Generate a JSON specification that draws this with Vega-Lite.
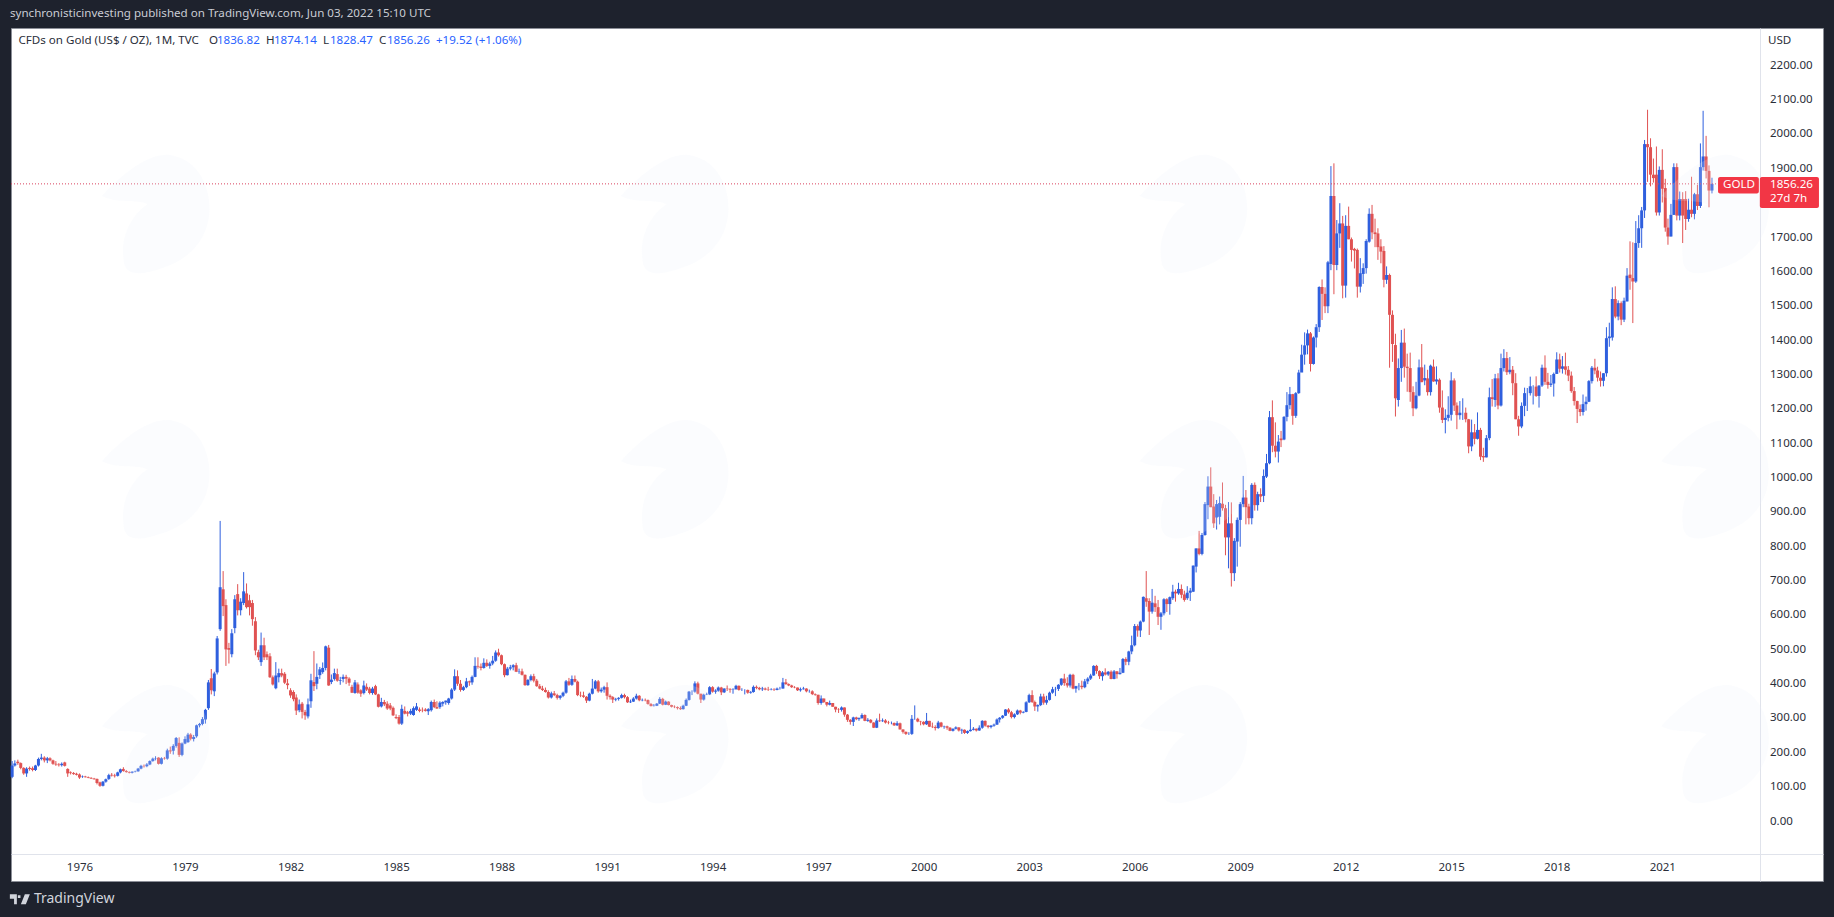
{
"$schema":"https://vega.github.io/schema/vega-lite/v6.json",
"width":1812,"height":853,
"autosize":"none",
"padding":{"left":11,"top":28,"right":11,"bottom":36},
"background":"#1e222d",
"config":{"view":{"fill":"#ffffff","stroke":"#8b8e97","strokeWidth":1},"font":"Noto Sans","axis":{"labelFont":"Noto Sans"}},
"datasets":{
"candles":[
{"t":"1974-02","o":130,"h":176,"l":126,"c":163},{"t":"1974-03","o":163,"h":178,"l":160,"c":169},{"t":"1974-04","o":174,"h":180,"l":165,"c":170},{"t":"1974-05","o":170,"h":172,"l":152,"c":156},{"t":"1974-06","o":156,"h":158,"l":136,"c":140},{"t":"1974-07","o":140,"h":158,"l":130,"c":154},{"t":"1974-08","o":156,"h":160,"l":148,"c":153},{"t":"1974-09","o":155,"h":160,"l":146,"c":150},{"t":"1974-10","o":150,"h":165,"l":147,"c":163},{"t":"1974-11","o":163,"h":186,"l":160,"c":182},{"t":"1974-12","o":182,"h":197,"l":178,"c":186},
{"t":"1975-01","o":186,"h":190,"l":172,"c":178},{"t":"1975-02","o":178,"h":188,"l":170,"c":184},{"t":"1975-03","o":184,"h":187,"l":175,"c":178},{"t":"1975-04","o":178,"h":180,"l":165,"c":168},{"t":"1975-05","o":168,"h":176,"l":162,"c":166},{"t":"1975-06","o":166,"h":170,"l":160,"c":164},{"t":"1975-07","o":164,"h":172,"l":160,"c":168},{"t":"1975-08","o":172,"h":174,"l":160,"c":162},{"t":"1975-09","o":153,"h":155,"l":130,"c":140},{"t":"1975-10","o":143,"h":146,"l":137,"c":141},{"t":"1975-11","o":141,"h":144,"l":136,"c":138},{"t":"1975-12","o":139,"h":142,"l":134,"c":136},
{"t":"1976-01","o":137,"h":140,"l":124,"c":128},{"t":"1976-02","o":130,"h":134,"l":127,"c":131},{"t":"1976-03","o":131,"h":133,"l":128,"c":129},{"t":"1976-04","o":129,"h":131,"l":126,"c":127},{"t":"1976-05","o":127,"h":129,"l":124,"c":125},{"t":"1976-06","o":125,"h":127,"l":122,"c":123},{"t":"1976-07","o":124,"h":125,"l":108,"c":112},{"t":"1976-08","o":114,"h":116,"l":101,"c":104},{"t":"1976-09","o":104,"h":118,"l":102,"c":116},{"t":"1976-10","o":116,"h":125,"l":113,"c":123},{"t":"1976-11","o":124,"h":139,"l":121,"c":135},{"t":"1976-12","o":136,"h":141,"l":131,"c":134},
{"t":"1977-01","o":134,"h":139,"l":128,"c":132},{"t":"1977-02","o":133,"h":145,"l":131,"c":143},{"t":"1977-03","o":143,"h":154,"l":140,"c":152},{"t":"1977-04","o":153,"h":158,"l":145,"c":147},{"t":"1977-05","o":147,"h":150,"l":142,"c":144},{"t":"1977-06","o":144,"h":146,"l":140,"c":142},{"t":"1977-07","o":142,"h":146,"l":140,"c":145},{"t":"1977-08","o":145,"h":148,"l":143,"c":146},{"t":"1977-09","o":146,"h":156,"l":145,"c":154},{"t":"1977-10","o":154,"h":165,"l":152,"c":162},{"t":"1977-11","o":162,"h":166,"l":157,"c":161},{"t":"1977-12","o":161,"h":170,"l":158,"c":166},
{"t":"1978-01","o":166,"h":178,"l":164,"c":176},{"t":"1978-02","o":176,"h":186,"l":174,"c":183},{"t":"1978-03","o":183,"h":190,"l":178,"c":184},{"t":"1978-04","o":186,"h":187,"l":166,"c":168},{"t":"1978-05","o":168,"h":187,"l":166,"c":184},{"t":"1978-06","o":184,"h":188,"l":180,"c":183},{"t":"1978-07","o":183,"h":212,"l":180,"c":207},{"t":"1978-08","o":207,"h":218,"l":197,"c":204},{"t":"1978-09","o":206,"h":225,"l":195,"c":220},{"t":"1978-10","o":220,"h":246,"l":215,"c":243},{"t":"1978-11","o":229,"h":245,"l":188,"c":194},{"t":"1978-12","o":194,"h":230,"l":190,"c":227},
{"t":"1979-01","o":227,"h":248,"l":225,"c":240},{"t":"1979-02","o":231,"h":258,"l":229,"c":253},{"t":"1979-03","o":253,"h":257,"l":236,"c":241},{"t":"1979-04","o":240,"h":252,"l":233,"c":246},{"t":"1979-05","o":248,"h":282,"l":244,"c":280},{"t":"1979-06","o":280,"h":287,"l":274,"c":284},{"t":"1979-07","o":284,"h":304,"l":280,"c":298},{"t":"1979-08","o":297,"h":328,"l":285,"c":325},{"t":"1979-09","o":330,"h":412,"l":325,"c":405},{"t":"1979-10","o":417,"h":444,"l":370,"c":382},{"t":"1979-11","o":379,"h":436,"l":365,"c":431},{"t":"1979-12","o":434,"h":540,"l":428,"c":533},
{"t":"1980-01","o":560,"h":875,"l":555,"c":682},{"t":"1980-02","o":676,"h":729,"l":598,"c":627},{"t":"1980-03","o":630,"h":647,"l":453,"c":501},{"t":"1980-04","o":505,"h":520,"l":460,"c":500},{"t":"1980-05","o":487,"h":560,"l":478,"c":548},{"t":"1980-06","o":563,"h":659,"l":548,"c":647},{"t":"1980-07","o":662,"h":691,"l":600,"c":615},{"t":"1980-08","o":615,"h":650,"l":600,"c":640},{"t":"1980-09","o":636,"h":726,"l":630,"c":670},{"t":"1980-10","o":664,"h":693,"l":620,"c":624},{"t":"1980-11","o":644,"h":660,"l":600,"c":624},{"t":"1980-12","o":636,"h":645,"l":570,"c":589},
{"t":"1981-01","o":583,"h":595,"l":484,"c":498},{"t":"1981-02","o":493,"h":500,"l":470,"c":478},{"t":"1981-03","o":464,"h":550,"l":453,"c":513},{"t":"1981-04","o":513,"h":535,"l":470,"c":478},{"t":"1981-05","o":487,"h":495,"l":470,"c":478},{"t":"1981-06","o":481,"h":490,"l":418,"c":420},{"t":"1981-07","o":420,"h":425,"l":396,"c":399},{"t":"1981-08","o":388,"h":464,"l":385,"c":425},{"t":"1981-09","o":420,"h":445,"l":405,"c":432},{"t":"1981-10","o":432,"h":445,"l":420,"c":425},{"t":"1981-11","o":430,"h":435,"l":400,"c":404},{"t":"1981-12","o":402,"h":415,"l":385,"c":397},
{"t":"1982-01","o":382,"h":388,"l":360,"c":367},{"t":"1982-02","o":377,"h":382,"l":350,"c":356},{"t":"1982-03","o":361,"h":370,"l":310,"c":323},{"t":"1982-04","o":324,"h":355,"l":318,"c":341},{"t":"1982-05","o":343,"h":348,"l":300,"c":319},{"t":"1982-06","o":319,"h":325,"l":296,"c":309},{"t":"1982-07","o":306,"h":358,"l":300,"c":341},{"t":"1982-08","o":350,"h":430,"l":331,"c":411},{"t":"1982-09","o":406,"h":496,"l":380,"c":394},{"t":"1982-10","o":401,"h":460,"l":385,"c":421},{"t":"1982-11","o":426,"h":450,"l":415,"c":443},{"t":"1982-12","o":435,"h":463,"l":430,"c":447},
{"t":"1983-01","o":447,"h":512,"l":440,"c":510},{"t":"1983-02","o":506,"h":514,"l":395,"c":396},{"t":"1983-03","o":406,"h":428,"l":400,"c":413},{"t":"1983-04","o":415,"h":445,"l":410,"c":432},{"t":"1983-05","o":429,"h":445,"l":407,"c":410},{"t":"1983-06","o":410,"h":421,"l":398,"c":412},{"t":"1983-07","o":415,"h":428,"l":405,"c":421},{"t":"1983-08","o":421,"h":427,"l":400,"c":416},{"t":"1983-09","o":416,"h":420,"l":395,"c":404},{"t":"1983-10","o":392,"h":398,"l":374,"c":375},{"t":"1983-11","o":374,"h":412,"l":372,"c":405},{"t":"1983-12","o":399,"h":405,"l":372,"c":375},
{"t":"1984-01","o":382,"h":385,"l":363,"c":372},{"t":"1984-02","o":374,"h":410,"l":370,"c":396},{"t":"1984-03","o":392,"h":402,"l":380,"c":384},{"t":"1984-04","o":387,"h":392,"l":370,"c":374},{"t":"1984-05","o":374,"h":392,"l":369,"c":387},{"t":"1984-06","o":394,"h":398,"l":368,"c":370},{"t":"1984-07","o":370,"h":372,"l":332,"c":334},{"t":"1984-08","o":335,"h":360,"l":332,"c":348},{"t":"1984-09","o":348,"h":354,"l":336,"c":341},{"t":"1984-10","o":343,"h":350,"l":325,"c":329},{"t":"1984-11","o":338,"h":345,"l":324,"c":329},{"t":"1984-12","o":331,"h":335,"l":307,"c":309},
{"t":"1985-01","o":304,"h":312,"l":298,"c":301},{"t":"1985-02","o":304,"h":310,"l":282,"c":285},{"t":"1985-03","o":285,"h":340,"l":281,"c":328},{"t":"1985-04","o":322,"h":335,"l":312,"c":314},{"t":"1985-05","o":318,"h":322,"l":306,"c":314},{"t":"1985-06","o":314,"h":328,"l":310,"c":322},{"t":"1985-07","o":310,"h":335,"l":308,"c":330},{"t":"1985-08","o":325,"h":345,"l":322,"c":335},{"t":"1985-09","o":326,"h":332,"l":318,"c":322},{"t":"1985-10","o":325,"h":332,"l":318,"c":324},{"t":"1985-11","o":326,"h":330,"l":320,"c":322},{"t":"1985-12","o":321,"h":330,"l":310,"c":327},
{"t":"1986-01","o":324,"h":352,"l":320,"c":348},{"t":"1986-02","o":348,"h":355,"l":330,"c":333},{"t":"1986-03","o":333,"h":350,"l":328,"c":329},{"t":"1986-04","o":333,"h":350,"l":328,"c":346},{"t":"1986-05","o":343,"h":350,"l":335,"c":348},{"t":"1986-06","o":347,"h":352,"l":340,"c":352},{"t":"1986-07","o":345,"h":360,"l":340,"c":358},{"t":"1986-08","o":358,"h":388,"l":355,"c":384},{"t":"1986-09","o":384,"h":443,"l":380,"c":423},{"t":"1986-10","o":423,"h":440,"l":395,"c":401},{"t":"1986-11","o":401,"h":412,"l":378,"c":383},{"t":"1986-12","o":383,"h":395,"l":380,"c":391},
{"t":"1987-01","o":391,"h":418,"l":388,"c":408},{"t":"1987-02","o":408,"h":410,"l":395,"c":405},{"t":"1987-03","o":405,"h":425,"l":398,"c":421},{"t":"1987-04","o":421,"h":478,"l":420,"c":453},{"t":"1987-05","o":453,"h":478,"l":445,"c":451},{"t":"1987-06","o":451,"h":460,"l":440,"c":447},{"t":"1987-07","o":447,"h":475,"l":445,"c":462},{"t":"1987-08","o":462,"h":472,"l":450,"c":453},{"t":"1987-09","o":453,"h":465,"l":445,"c":460},{"t":"1987-10","o":460,"h":482,"l":455,"c":468},{"t":"1987-11","o":468,"h":498,"l":465,"c":492},{"t":"1987-12","o":492,"h":503,"l":480,"c":484},
{"t":"1988-01","o":484,"h":486,"l":455,"c":458},{"t":"1988-02","o":458,"h":460,"l":420,"c":426},{"t":"1988-03","o":426,"h":450,"l":425,"c":445},{"t":"1988-04","o":445,"h":456,"l":440,"c":449},{"t":"1988-05","o":449,"h":458,"l":440,"c":455},{"t":"1988-06","o":455,"h":462,"l":435,"c":436},{"t":"1988-07","o":436,"h":445,"l":430,"c":437},{"t":"1988-08","o":437,"h":445,"l":425,"c":427},{"t":"1988-09","o":427,"h":428,"l":395,"c":397},{"t":"1988-10","o":397,"h":415,"l":395,"c":412},{"t":"1988-11","o":412,"h":428,"l":408,"c":423},{"t":"1988-12","o":423,"h":430,"l":405,"c":410},
{"t":"1989-01","o":410,"h":415,"l":392,"c":394},{"t":"1989-02","o":394,"h":400,"l":385,"c":387},{"t":"1989-03","o":387,"h":395,"l":380,"c":383},{"t":"1989-04","o":383,"h":390,"l":375,"c":377},{"t":"1989-05","o":377,"h":382,"l":358,"c":361},{"t":"1989-06","o":361,"h":378,"l":358,"c":373},{"t":"1989-07","o":373,"h":380,"l":365,"c":368},{"t":"1989-08","o":368,"h":372,"l":355,"c":360},{"t":"1989-09","o":360,"h":368,"l":355,"c":366},{"t":"1989-10","o":366,"h":378,"l":362,"c":375},{"t":"1989-11","o":375,"h":412,"l":372,"c":408},{"t":"1989-12","o":408,"h":418,"l":395,"c":398},
{"t":"1990-01","o":398,"h":425,"l":395,"c":415},{"t":"1990-02","o":415,"h":425,"l":405,"c":407},{"t":"1990-03","o":407,"h":410,"l":365,"c":368},{"t":"1990-04","o":368,"h":378,"l":362,"c":367},{"t":"1990-05","o":367,"h":378,"l":360,"c":363},{"t":"1990-06","o":363,"h":365,"l":345,"c":352},{"t":"1990-07","o":352,"h":375,"l":350,"c":372},{"t":"1990-08","o":372,"h":415,"l":370,"c":387},{"t":"1990-09","o":387,"h":412,"l":385,"c":408},{"t":"1990-10","o":408,"h":412,"l":375,"c":379},{"t":"1990-11","o":379,"h":390,"l":375,"c":384},{"t":"1990-12","o":384,"h":395,"l":375,"c":391},
{"t":"1991-01","o":391,"h":405,"l":355,"c":366},{"t":"1991-02","o":366,"h":370,"l":355,"c":362},{"t":"1991-03","o":362,"h":365,"l":345,"c":355},{"t":"1991-04","o":355,"h":360,"l":350,"c":357},{"t":"1991-05","o":357,"h":362,"l":352,"c":360},{"t":"1991-06","o":360,"h":372,"l":358,"c":368},{"t":"1991-07","o":368,"h":372,"l":358,"c":362},{"t":"1991-08","o":362,"h":365,"l":345,"c":347},{"t":"1991-09","o":347,"h":355,"l":345,"c":349},{"t":"1991-10","o":349,"h":362,"l":348,"c":358},{"t":"1991-11","o":358,"h":372,"l":355,"c":366},{"t":"1991-12","o":366,"h":368,"l":350,"c":353},
{"t":"1992-01","o":353,"h":358,"l":350,"c":354},{"t":"1992-02","o":354,"h":358,"l":350,"c":353},{"t":"1992-03","o":353,"h":355,"l":340,"c":342},{"t":"1992-04","o":342,"h":345,"l":335,"c":336},{"t":"1992-05","o":336,"h":342,"l":335,"c":337},{"t":"1992-06","o":337,"h":345,"l":336,"c":343},{"t":"1992-07","o":343,"h":362,"l":342,"c":357},{"t":"1992-08","o":357,"h":360,"l":338,"c":340},{"t":"1992-09","o":340,"h":352,"l":339,"c":349},{"t":"1992-10","o":349,"h":350,"l":338,"c":339},{"t":"1992-11","o":339,"h":340,"l":332,"c":334},{"t":"1992-12","o":334,"h":338,"l":330,"c":333},
{"t":"1993-01","o":333,"h":335,"l":326,"c":330},{"t":"1993-02","o":330,"h":335,"l":325,"c":327},{"t":"1993-03","o":327,"h":340,"l":326,"c":337},{"t":"1993-04","o":337,"h":358,"l":336,"c":354},{"t":"1993-05","o":354,"h":380,"l":352,"c":378},{"t":"1993-06","o":378,"h":382,"l":368,"c":378},{"t":"1993-07","o":378,"h":408,"l":375,"c":402},{"t":"1993-08","o":402,"h":407,"l":370,"c":372},{"t":"1993-09","o":372,"h":372,"l":345,"c":355},{"t":"1993-10","o":355,"h":372,"l":352,"c":369},{"t":"1993-11","o":369,"h":375,"l":368,"c":370},{"t":"1993-12","o":370,"h":394,"l":368,"c":391},
{"t":"1994-01","o":391,"h":394,"l":375,"c":378},{"t":"1994-02","o":378,"h":385,"l":372,"c":381},{"t":"1994-03","o":381,"h":393,"l":378,"c":390},{"t":"1994-04","o":390,"h":392,"l":368,"c":376},{"t":"1994-05","o":376,"h":388,"l":374,"c":387},{"t":"1994-06","o":387,"h":396,"l":380,"c":386},{"t":"1994-07","o":386,"h":388,"l":375,"c":384},{"t":"1994-08","o":384,"h":388,"l":372,"c":385},{"t":"1994-09","o":385,"h":398,"l":384,"c":395},{"t":"1994-10","o":395,"h":396,"l":381,"c":383},{"t":"1994-11","o":383,"h":388,"l":380,"c":383},{"t":"1994-12","o":383,"h":385,"l":370,"c":383},
{"t":"1995-01","o":383,"h":384,"l":372,"c":375},{"t":"1995-02","o":375,"h":380,"l":372,"c":377},{"t":"1995-03","o":377,"h":396,"l":375,"c":392},{"t":"1995-04","o":392,"h":396,"l":385,"c":389},{"t":"1995-05","o":389,"h":392,"l":382,"c":385},{"t":"1995-06","o":385,"h":392,"l":380,"c":387},{"t":"1995-07","o":387,"h":390,"l":382,"c":384},{"t":"1995-08","o":384,"h":392,"l":380,"c":383},{"t":"1995-09","o":383,"h":388,"l":382,"c":384},{"t":"1995-10","o":384,"h":388,"l":380,"c":383},{"t":"1995-11","o":383,"h":390,"l":382,"c":387},{"t":"1995-12","o":387,"h":392,"l":384,"c":387},
{"t":"1996-01","o":387,"h":418,"l":387,"c":405},{"t":"1996-02","o":405,"h":415,"l":398,"c":400},{"t":"1996-03","o":400,"h":402,"l":394,"c":396},{"t":"1996-04","o":396,"h":398,"l":389,"c":391},{"t":"1996-05","o":391,"h":394,"l":388,"c":390},{"t":"1996-06","o":390,"h":390,"l":380,"c":382},{"t":"1996-07","o":382,"h":390,"l":378,"c":385},{"t":"1996-08","o":385,"h":392,"l":384,"c":387},{"t":"1996-09","o":387,"h":388,"l":376,"c":379},{"t":"1996-10","o":379,"h":384,"l":375,"c":379},{"t":"1996-11","o":379,"h":382,"l":368,"c":371},{"t":"1996-12","o":371,"h":373,"l":366,"c":369},
{"t":"1997-01","o":369,"h":369,"l":340,"c":345},{"t":"1997-02","o":345,"h":367,"l":340,"c":358},{"t":"1997-03","o":358,"h":358,"l":345,"c":348},{"t":"1997-04","o":348,"h":348,"l":335,"c":340},{"t":"1997-05","o":340,"h":352,"l":338,"c":345},{"t":"1997-06","o":345,"h":345,"l":334,"c":334},{"t":"1997-07","o":334,"h":334,"l":318,"c":326},{"t":"1997-08","o":326,"h":330,"l":316,"c":325},{"t":"1997-09","o":325,"h":335,"l":320,"c":332},{"t":"1997-10","o":332,"h":332,"l":305,"c":311},{"t":"1997-11","o":311,"h":313,"l":290,"c":296},{"t":"1997-12","o":296,"h":298,"l":282,"c":290},
{"t":"1998-01","o":290,"h":305,"l":278,"c":303},{"t":"1998-02","o":303,"h":305,"l":295,"c":298},{"t":"1998-03","o":298,"h":303,"l":293,"c":301},{"t":"1998-04","o":301,"h":315,"l":299,"c":310},{"t":"1998-05","o":310,"h":312,"l":292,"c":293},{"t":"1998-06","o":293,"h":301,"l":290,"c":296},{"t":"1998-07","o":296,"h":298,"l":286,"c":288},{"t":"1998-08","o":288,"h":289,"l":272,"c":273},{"t":"1998-09","o":273,"h":300,"l":272,"c":294},{"t":"1998-10","o":294,"h":314,"l":290,"c":292},{"t":"1998-11","o":292,"h":300,"l":290,"c":294},{"t":"1998-12","o":294,"h":298,"l":285,"c":288},
{"t":"1999-01","o":288,"h":293,"l":283,"c":287},{"t":"1999-02","o":287,"h":291,"l":283,"c":287},{"t":"1999-03","o":287,"h":288,"l":278,"c":280},{"t":"1999-04","o":280,"h":292,"l":278,"c":286},{"t":"1999-05","o":286,"h":288,"l":268,"c":268},{"t":"1999-06","o":268,"h":268,"l":256,"c":261},{"t":"1999-07","o":261,"h":262,"l":252,"c":255},{"t":"1999-08","o":255,"h":260,"l":252,"c":255},{"t":"1999-09","o":255,"h":310,"l":252,"c":299},{"t":"1999-10","o":299,"h":338,"l":296,"c":299},{"t":"1999-11","o":299,"h":302,"l":289,"c":291},{"t":"1999-12","o":291,"h":293,"l":280,"c":290},
{"t":"2000-01","o":290,"h":292,"l":280,"c":283},{"t":"2000-02","o":283,"h":316,"l":281,"c":293},{"t":"2000-03","o":293,"h":293,"l":275,"c":276},{"t":"2000-04","o":276,"h":288,"l":272,"c":275},{"t":"2000-05","o":275,"h":280,"l":265,"c":272},{"t":"2000-06","o":272,"h":293,"l":270,"c":288},{"t":"2000-07","o":288,"h":290,"l":274,"c":276},{"t":"2000-08","o":276,"h":279,"l":270,"c":277},{"t":"2000-09","o":277,"h":279,"l":267,"c":273},{"t":"2000-10","o":273,"h":275,"l":263,"c":264},{"t":"2000-11","o":264,"h":271,"l":262,"c":270},{"t":"2000-12","o":270,"h":277,"l":268,"c":274},
{"t":"2001-01","o":274,"h":274,"l":262,"c":265},{"t":"2001-02","o":265,"h":270,"l":255,"c":267},{"t":"2001-03","o":267,"h":268,"l":255,"c":258},{"t":"2001-04","o":258,"h":265,"l":255,"c":263},{"t":"2001-05","o":263,"h":298,"l":262,"c":267},{"t":"2001-06","o":267,"h":275,"l":265,"c":270},{"t":"2001-07","o":270,"h":271,"l":262,"c":265},{"t":"2001-08","o":265,"h":280,"l":264,"c":273},{"t":"2001-09","o":273,"h":295,"l":270,"c":293},{"t":"2001-10","o":293,"h":294,"l":276,"c":279},{"t":"2001-11","o":279,"h":281,"l":271,"c":275},{"t":"2001-12","o":275,"h":281,"l":271,"c":279},
{"t":"2002-01","o":279,"h":285,"l":276,"c":282},{"t":"2002-02","o":282,"h":300,"l":281,"c":297},{"t":"2002-03","o":297,"h":304,"l":288,"c":302},{"t":"2002-04","o":302,"h":310,"l":299,"c":308},{"t":"2002-05","o":308,"h":327,"l":307,"c":326},{"t":"2002-06","o":326,"h":330,"l":314,"c":318},{"t":"2002-07","o":318,"h":322,"l":300,"c":304},{"t":"2002-08","o":304,"h":315,"l":300,"c":312},{"t":"2002-09","o":312,"h":326,"l":310,"c":323},{"t":"2002-10","o":323,"h":325,"l":312,"c":317},{"t":"2002-11","o":317,"h":321,"l":315,"c":319},{"t":"2002-12","o":319,"h":350,"l":318,"c":347},
{"t":"2003-01","o":347,"h":372,"l":345,"c":368},{"t":"2003-02","o":368,"h":382,"l":345,"c":348},{"t":"2003-03","o":348,"h":352,"l":322,"c":335},{"t":"2003-04","o":335,"h":341,"l":320,"c":339},{"t":"2003-05","o":339,"h":372,"l":336,"c":364},{"t":"2003-06","o":364,"h":372,"l":340,"c":346},{"t":"2003-07","o":346,"h":366,"l":340,"c":354},{"t":"2003-08","o":354,"h":378,"l":352,"c":375},{"t":"2003-09","o":375,"h":392,"l":372,"c":385},{"t":"2003-10","o":385,"h":392,"l":365,"c":386},{"t":"2003-11","o":386,"h":400,"l":380,"c":398},{"t":"2003-12","o":398,"h":417,"l":395,"c":416},
{"t":"2004-01","o":416,"h":430,"l":395,"c":403},{"t":"2004-02","o":403,"h":420,"l":390,"c":396},{"t":"2004-03","o":396,"h":430,"l":390,"c":427},{"t":"2004-04","o":427,"h":430,"l":385,"c":387},{"t":"2004-05","o":387,"h":395,"l":375,"c":394},{"t":"2004-06","o":394,"h":403,"l":382,"c":395},{"t":"2004-07","o":395,"h":410,"l":385,"c":391},{"t":"2004-08","o":391,"h":415,"l":388,"c":408},{"t":"2004-09","o":408,"h":420,"l":400,"c":416},{"t":"2004-10","o":416,"h":430,"l":412,"c":425},{"t":"2004-11","o":425,"h":455,"l":424,"c":453},{"t":"2004-12","o":453,"h":456,"l":430,"c":438},
{"t":"2005-01","o":438,"h":440,"l":415,"c":423},{"t":"2005-02","o":423,"h":438,"l":410,"c":434},{"t":"2005-03","o":434,"h":446,"l":425,"c":428},{"t":"2005-04","o":428,"h":438,"l":424,"c":436},{"t":"2005-05","o":436,"h":440,"l":414,"c":415},{"t":"2005-06","o":415,"h":441,"l":414,"c":437},{"t":"2005-07","o":437,"h":438,"l":416,"c":429},{"t":"2005-08","o":429,"h":447,"l":428,"c":433},{"t":"2005-09","o":433,"h":476,"l":432,"c":473},{"t":"2005-10","o":473,"h":478,"l":455,"c":465},{"t":"2005-11","o":465,"h":497,"l":455,"c":495},{"t":"2005-12","o":495,"h":541,"l":487,"c":513},
{"t":"2006-01","o":513,"h":575,"l":510,"c":569},{"t":"2006-02","o":569,"h":574,"l":538,"c":556},{"t":"2006-03","o":556,"h":585,"l":537,"c":582},{"t":"2006-04","o":582,"h":655,"l":580,"c":654},{"t":"2006-05","o":650,"h":729,"l":625,"c":640},{"t":"2006-06","o":642,"h":650,"l":543,"c":611},{"t":"2006-07","o":611,"h":677,"l":605,"c":637},{"t":"2006-08","o":635,"h":657,"l":610,"c":624},{"t":"2006-09","o":624,"h":645,"l":572,"c":596},{"t":"2006-10","o":596,"h":610,"l":558,"c":606},{"t":"2006-11","o":606,"h":650,"l":600,"c":647},{"t":"2006-12","o":647,"h":650,"l":610,"c":633},
{"t":"2007-01","o":633,"h":655,"l":602,"c":653},{"t":"2007-02","o":650,"h":689,"l":645,"c":669},{"t":"2007-03","o":669,"h":675,"l":640,"c":664},{"t":"2007-04","o":664,"h":695,"l":660,"c":677},{"t":"2007-05","o":677,"h":690,"l":650,"c":660},{"t":"2007-06","o":661,"h":672,"l":640,"c":645},{"t":"2007-07","o":650,"h":685,"l":645,"c":666},{"t":"2007-08","o":666,"h":680,"l":642,"c":672},{"t":"2007-09","o":669,"h":745,"l":668,"c":745},{"t":"2007-10","o":742,"h":795,"l":725,"c":795},{"t":"2007-11","o":795,"h":846,"l":775,"c":779},{"t":"2007-12","o":779,"h":840,"l":775,"c":834},
{"t":"2008-01","o":834,"h":930,"l":832,"c":924},{"t":"2008-02","o":921,"h":1005,"l":880,"c":975},{"t":"2008-03","o":975,"h":1031,"l":915,"c":915},{"t":"2008-04","o":917,"h":953,"l":855,"c":868},{"t":"2008-05","o":885,"h":936,"l":850,"c":924},{"t":"2008-06","o":887,"h":946,"l":865,"c":927},{"t":"2008-07","o":925,"h":987,"l":905,"c":912},{"t":"2008-08","o":912,"h":922,"l":775,"c":827},{"t":"2008-09","o":827,"h":930,"l":737,"c":868},{"t":"2008-10","o":868,"h":929,"l":684,"c":723},{"t":"2008-11","o":723,"h":825,"l":700,"c":817},{"t":"2008-12","o":815,"h":885,"l":742,"c":878},
{"t":"2009-01","o":878,"h":930,"l":800,"c":924},{"t":"2009-02","o":924,"h":1006,"l":915,"c":943},{"t":"2009-03","o":943,"h":965,"l":865,"c":915},{"t":"2009-04","o":917,"h":925,"l":865,"c":883},{"t":"2009-05","o":883,"h":985,"l":865,"c":980},{"t":"2009-06","o":980,"h":987,"l":905,"c":921},{"t":"2009-07","o":921,"h":960,"l":905,"c":953},{"t":"2009-08","o":953,"h":970,"l":930,"c":946},{"t":"2009-09","o":948,"h":1025,"l":930,"c":1006},{"t":"2009-10","o":1004,"h":1070,"l":1000,"c":1043},{"t":"2009-11","o":1043,"h":1195,"l":1040,"c":1177},{"t":"2009-12","o":1177,"h":1226,"l":1075,"c":1094},
{"t":"2010-01","o":1094,"h":1162,"l":1060,"c":1077},{"t":"2010-02","o":1077,"h":1125,"l":1045,"c":1106},{"t":"2010-03","o":1115,"h":1137,"l":1090,"c":1110},{"t":"2010-04","o":1112,"h":1180,"l":1110,"c":1178},{"t":"2010-05","o":1178,"h":1250,"l":1165,"c":1212},{"t":"2010-06","o":1212,"h":1265,"l":1200,"c":1244},{"t":"2010-07","o":1244,"h":1245,"l":1155,"c":1181},{"t":"2010-08","o":1181,"h":1250,"l":1175,"c":1247},{"t":"2010-09","o":1247,"h":1315,"l":1245,"c":1307},{"t":"2010-10","o":1307,"h":1388,"l":1310,"c":1359},{"t":"2010-11","o":1359,"h":1424,"l":1330,"c":1386},{"t":"2010-12","o":1386,"h":1432,"l":1360,"c":1421},
{"t":"2011-01","o":1421,"h":1425,"l":1310,"c":1332},{"t":"2011-02","o":1332,"h":1412,"l":1330,"c":1409},{"t":"2011-03","o":1409,"h":1448,"l":1380,"c":1439},{"t":"2011-04","o":1439,"h":1558,"l":1425,"c":1556},{"t":"2011-05","o":1556,"h":1578,"l":1460,"c":1536},{"t":"2011-06","o":1536,"h":1555,"l":1480,"c":1500},{"t":"2011-07","o":1500,"h":1632,"l":1480,"c":1628},{"t":"2011-08","o":1623,"h":1908,"l":1605,"c":1821},{"t":"2011-09","o":1821,"h":1916,"l":1535,"c":1620},{"t":"2011-10","o":1620,"h":1751,"l":1605,"c":1712},{"t":"2011-11","o":1712,"h":1800,"l":1670,"c":1741},{"t":"2011-12","o":1741,"h":1763,"l":1523,"c":1560},
{"t":"2012-01","o":1560,"h":1765,"l":1525,"c":1734},{"t":"2012-02","o":1734,"h":1790,"l":1695,"c":1695},{"t":"2012-03","o":1695,"h":1700,"l":1630,"c":1664},{"t":"2012-04","o":1667,"h":1670,"l":1610,"c":1662},{"t":"2012-05","o":1664,"h":1668,"l":1525,"c":1557},{"t":"2012-06","o":1557,"h":1640,"l":1540,"c":1596},{"t":"2012-07","o":1594,"h":1625,"l":1565,"c":1611},{"t":"2012-08","o":1611,"h":1695,"l":1595,"c":1690},{"t":"2012-09","o":1688,"h":1785,"l":1685,"c":1769},{"t":"2012-10","o":1769,"h":1795,"l":1695,"c":1715},{"t":"2012-11","o":1715,"h":1755,"l":1672,"c":1710},{"t":"2012-12","o":1712,"h":1727,"l":1635,"c":1672},
{"t":"2013-01","o":1674,"h":1695,"l":1625,"c":1659},{"t":"2013-02","o":1661,"h":1675,"l":1555,"c":1577},{"t":"2013-03","o":1577,"h":1616,"l":1565,"c":1591},{"t":"2013-04","o":1591,"h":1595,"l":1321,"c":1475},{"t":"2013-05","o":1475,"h":1488,"l":1338,"c":1390},{"t":"2013-06","o":1387,"h":1420,"l":1179,"c":1232},{"t":"2013-07","o":1227,"h":1348,"l":1208,"c":1320},{"t":"2013-08","o":1320,"h":1431,"l":1280,"c":1394},{"t":"2013-09","o":1394,"h":1435,"l":1292,"c":1324},{"t":"2013-10","o":1324,"h":1362,"l":1251,"c":1320},{"t":"2013-11","o":1320,"h":1365,"l":1222,"c":1250},{"t":"2013-12","o":1250,"h":1267,"l":1180,"c":1203},
{"t":"2014-01","o":1203,"h":1280,"l":1200,"c":1240},{"t":"2014-02","o":1240,"h":1345,"l":1238,"c":1322},{"t":"2014-03","o":1322,"h":1390,"l":1279,"c":1279},{"t":"2014-04","o":1284,"h":1330,"l":1270,"c":1291},{"t":"2014-05","o":1290,"h":1315,"l":1240,"c":1250},{"t":"2014-06","o":1250,"h":1330,"l":1240,"c":1327},{"t":"2014-07","o":1324,"h":1345,"l":1280,"c":1281},{"t":"2014-08","o":1281,"h":1325,"l":1272,"c":1287},{"t":"2014-09","o":1286,"h":1290,"l":1190,"c":1205},{"t":"2014-10","o":1205,"h":1255,"l":1160,"c":1169},{"t":"2014-11","o":1169,"h":1200,"l":1130,"c":1175},{"t":"2014-12","o":1175,"h":1238,"l":1165,"c":1184},
{"t":"2015-01","o":1184,"h":1308,"l":1167,"c":1284},{"t":"2015-02","o":1284,"h":1290,"l":1195,"c":1211},{"t":"2015-03","o":1211,"h":1220,"l":1142,"c":1183},{"t":"2015-04","o":1183,"h":1224,"l":1170,"c":1190},{"t":"2015-05","o":1190,"h":1232,"l":1169,"c":1190},{"t":"2015-06","o":1190,"h":1205,"l":1162,"c":1171},{"t":"2015-07","o":1171,"h":1172,"l":1072,"c":1092},{"t":"2015-08","o":1092,"h":1170,"l":1078,"c":1133},{"t":"2015-09","o":1133,"h":1157,"l":1098,"c":1114},{"t":"2015-10","o":1114,"h":1191,"l":1112,"c":1140},{"t":"2015-11","o":1140,"h":1146,"l":1052,"c":1062},{"t":"2015-12","o":1064,"h":1088,"l":1047,"c":1060},
{"t":"2016-01","o":1060,"h":1125,"l":1060,"c":1116},{"t":"2016-02","o":1116,"h":1263,"l":1110,"c":1235},{"t":"2016-03","o":1235,"h":1288,"l":1208,"c":1230},{"t":"2016-04","o":1227,"h":1303,"l":1207,"c":1290},{"t":"2016-05","o":1290,"h":1305,"l":1200,"c":1211},{"t":"2016-06","o":1211,"h":1362,"l":1208,"c":1320},{"t":"2016-07","o":1320,"h":1375,"l":1310,"c":1349},{"t":"2016-08","o":1349,"h":1367,"l":1300,"c":1308},{"t":"2016-09","o":1308,"h":1352,"l":1302,"c":1315},{"t":"2016-10","o":1315,"h":1326,"l":1241,"c":1276},{"t":"2016-11","o":1276,"h":1305,"l":1171,"c":1171},{"t":"2016-12","o":1171,"h":1181,"l":1123,"c":1150},
{"t":"2017-01","o":1150,"h":1220,"l":1145,"c":1210},{"t":"2017-02","o":1210,"h":1263,"l":1180,"c":1247},{"t":"2017-03","o":1247,"h":1262,"l":1195,"c":1247},{"t":"2017-04","o":1247,"h":1295,"l":1240,"c":1267},{"t":"2017-05","o":1267,"h":1270,"l":1214,"c":1267},{"t":"2017-06","o":1266,"h":1296,"l":1236,"c":1239},{"t":"2017-07","o":1239,"h":1270,"l":1205,"c":1269},{"t":"2017-08","o":1269,"h":1330,"l":1265,"c":1321},{"t":"2017-09","o":1321,"h":1357,"l":1271,"c":1280},{"t":"2017-10","o":1280,"h":1306,"l":1260,"c":1271},{"t":"2017-11","o":1271,"h":1300,"l":1265,"c":1275},{"t":"2017-12","o":1275,"h":1307,"l":1237,"c":1303},
{"t":"2018-01","o":1303,"h":1366,"l":1303,"c":1345},{"t":"2018-02","o":1345,"h":1362,"l":1307,"c":1318},{"t":"2018-03","o":1318,"h":1355,"l":1304,"c":1325},{"t":"2018-04","o":1325,"h":1365,"l":1301,"c":1315},{"t":"2018-05","o":1315,"h":1326,"l":1282,"c":1298},{"t":"2018-06","o":1298,"h":1310,"l":1248,"c":1253},{"t":"2018-07","o":1253,"h":1265,"l":1211,"c":1224},{"t":"2018-08","o":1224,"h":1225,"l":1160,"c":1201},{"t":"2018-09","o":1201,"h":1214,"l":1180,"c":1192},{"t":"2018-10","o":1192,"h":1243,"l":1182,"c":1215},{"t":"2018-11","o":1215,"h":1237,"l":1196,"c":1222},{"t":"2018-12","o":1222,"h":1285,"l":1221,"c":1282},
{"t":"2019-01","o":1282,"h":1326,"l":1275,"c":1321},{"t":"2019-02","o":1321,"h":1347,"l":1302,"c":1313},{"t":"2019-03","o":1313,"h":1324,"l":1281,"c":1292},{"t":"2019-04","o":1292,"h":1310,"l":1266,"c":1283},{"t":"2019-05","o":1283,"h":1305,"l":1267,"c":1305},{"t":"2019-06","o":1305,"h":1439,"l":1295,"c":1407},{"t":"2019-07","o":1407,"h":1452,"l":1382,"c":1412},{"t":"2019-08","o":1409,"h":1555,"l":1400,"c":1521},{"t":"2019-09","o":1521,"h":1558,"l":1465,"c":1470},{"t":"2019-10","o":1470,"h":1517,"l":1459,"c":1509},{"t":"2019-11","o":1509,"h":1514,"l":1445,"c":1461},{"t":"2019-12","o":1461,"h":1525,"l":1454,"c":1516},
{"t":"2020-01","o":1514,"h":1611,"l":1514,"c":1589},{"t":"2020-02","o":1592,"h":1689,"l":1548,"c":1582},{"t":"2020-03","o":1582,"h":1686,"l":1451,"c":1572},{"t":"2020-04","o":1572,"h":1748,"l":1568,"c":1684},{"t":"2020-05","o":1684,"h":1765,"l":1670,"c":1727},{"t":"2020-06","o":1727,"h":1789,"l":1670,"c":1779},{"t":"2020-07","o":1779,"h":1984,"l":1757,"c":1972},{"t":"2020-08","o":1972,"h":2072,"l":1862,"c":1963},{"t":"2020-09","o":1963,"h":1989,"l":1849,"c":1883},{"t":"2020-10","o":1883,"h":1930,"l":1860,"c":1873},{"t":"2020-11","o":1883,"h":1965,"l":1764,"c":1773},{"t":"2020-12","o":1773,"h":1907,"l":1764,"c":1897},
{"t":"2021-01","o":1897,"h":1957,"l":1802,"c":1842},{"t":"2021-02","o":1844,"h":1871,"l":1717,"c":1729},{"t":"2021-03","o":1729,"h":1755,"l":1679,"c":1703},{"t":"2021-04","o":1703,"h":1798,"l":1703,"c":1766},{"t":"2021-05","o":1766,"h":1916,"l":1766,"c":1905},{"t":"2021-06","o":1905,"h":1916,"l":1750,"c":1764},{"t":"2021-07","o":1764,"h":1834,"l":1750,"c":1812},{"t":"2021-08","o":1812,"h":1832,"l":1684,"c":1764},{"t":"2021-09","o":1812,"h":1835,"l":1722,"c":1754},{"t":"2021-10","o":1754,"h":1813,"l":1746,"c":1781},{"t":"2021-11","o":1781,"h":1877,"l":1759,"c":1769},{"t":"2021-12","o":1769,"h":1830,"l":1753,"c":1826},
{"t":"2022-01","o":1826,"h":1853,"l":1780,"c":1792},{"t":"2022-02","o":1792,"h":1974,"l":1786,"c":1905},{"t":"2022-03","o":1905,"h":2069,"l":1895,"c":1936},{"t":"2022-04","o":1936,"h":1996,"l":1872,"c":1894},{"t":"2022-05","o":1894,"h":1910,"l":1788,"c":1836.82},{"t":"2022-06","o":1836.82,"h":1874.14,"l":1828.47,"c":1856.26}
],
"notes":[
{"x":"1974-01-09","y":2351,"label":"synchronisticinvesting published on TradingView.com, Jun 03, 2022 15:10 UTC","kind":"head"},
{"x":"1974-04-07","y":2272,"label":"CFDs on Gold (US$ / OZ), 1M, TVC","kind":"dark"},
{"x":"1979-09-06","y":2272,"label":"O","kind":"dark"},
{"x":"1979-11-28","y":2272,"label":"1836.82","kind":"blue"},
{"x":"1981-04-20","y":2272,"label":"H","kind":"dark"},
{"x":"1981-07-13","y":2272,"label":"1874.14","kind":"blue"},
{"x":"1982-12-03","y":2272,"label":"L","kind":"dark"},
{"x":"1983-02-14","y":2272,"label":"1828.47","kind":"blue"},
{"x":"1984-07-07","y":2272,"label":"C","kind":"dark"},
{"x":"1984-09-28","y":2272,"label":"1856.26","kind":"blue"},
{"x":"1986-02-19","y":2272,"label":"+19.52 (+1.06%)","kind":"blue"},
{"x":"2024-01-04","y":2272,"label":"USD","kind":"dark"},
{"x":"2022-09-24","y":1852,"label":"GOLD","kind":"white"},
{"x":"2024-01-25","y":1853,"label":"1856.26","kind":"white"},
{"x":"2024-01-25","y":1812,"label":"27d 7h","kind":"white"}
],
"ticks":[
{"y":0,"label":"0.00"},{"y":100,"label":"100.00"},{"y":200,"label":"200.00"},{"y":300,"label":"300.00"},{"y":400,"label":"400.00"},{"y":500,"label":"500.00"},{"y":600,"label":"600.00"},{"y":700,"label":"700.00"},{"y":800,"label":"800.00"},{"y":900,"label":"900.00"},{"y":1000,"label":"1000.00"},{"y":1100,"label":"1100.00"},{"y":1200,"label":"1200.00"},{"y":1300,"label":"1300.00"},{"y":1400,"label":"1400.00"},{"y":1500,"label":"1500.00"},{"y":1600,"label":"1600.00"},{"y":1700,"label":"1700.00"},{"y":1800,"label":"1800.00"},{"y":1900,"label":"1900.00"},{"y":2000,"label":"2000.00"},{"y":2100,"label":"2100.00"},{"y":2200,"label":"2200.00"}
],
"tags":[
{"a":"2022-08-03","b":"2023-10-01","top":1876,"bottom":1828},
{"a":"2023-10-11","b":"2025-06-16","top":1876,"bottom":1786}
],
"marks":[
{"x":"1978-03","y":1766},{"x":"1992-12","y":1766},{"x":"2007-09","y":1766},{"x":"2022-07","y":1766},
{"x":"1978-03","y":994},{"x":"1992-12","y":994},{"x":"2007-09","y":994},{"x":"2022-07","y":994},
{"x":"1978-03","y":223},{"x":"1992-12","y":223},{"x":"2007-09","y":223},{"x":"2022-07","y":223}
]
},
"layer":[
{"data":{"name":"candles"},
"mark":{"type":"rule","strokeWidth":1},
"encoding":{
"x":{"field":"t","type":"temporal","title":null,
"scale":{"domain":[{"year":1974,"month":1,"date":20},{"year":2025,"month":7,"date":28}],"nice":false,"padding":0},
"axis":{"orient":"bottom","offset":-27,"values":[{"year":1976},{"year":1979},{"year":1982},{"year":1985},{"year":1988},{"year":1991},{"year":1994},{"year":1997},{"year":2000},{"year":2003},{"year":2006},{"year":2009},{"year":2012},{"year":2015},{"year":2018},{"year":2021}],"format":"%Y","grid":false,"ticks":false,"domainColor":"#e0e3eb","labelColor":"#2a2e39","labelFontSize":11.5,"labelPadding":7,"labelOverlap":false,"labelFlush":false}},
"y":{"field":"l","type":"quantitative","title":null,
"scale":{"domain":[-173.2,2310],"nice":false,"zero":false},
"axis":{"orient":"right","offset":-63,"labels":false,"grid":false,"ticks":false,"domainColor":"#e0e3eb"}},
"y2":{"field":"h"},
"color":{"condition":{"test":"datum.c>=datum.o","value":"#2f5fde"},"value":"#e05252"}
}},
{"data":{"name":"candles"},
"mark":{"type":"bar","size":3},
"encoding":{
"x":{"field":"t","type":"temporal","title":null,"scale":{"domain":[{"year":1974,"month":1,"date":20},{"year":2025,"month":7,"date":28}],"nice":false,"padding":0}},
"y":{"field":"o","type":"quantitative","title":null,"scale":{"domain":[-173.2,2310],"nice":false,"zero":false}},
"y2":{"field":"c"},
"color":{"condition":{"test":"datum.c>=datum.o","value":"#2f5fde"},"value":"#e05252"}
}},
{"data":{"values":[{"a":"1974-01-20","b":"2023-10-11","p":1856.26}]},
"mark":{"type":"rule","color":"#d9435e","strokeWidth":1,"strokeDash":[1,2]},
"encoding":{"x":{"field":"a","type":"temporal","title":null,"scale":{"domain":[{"year":1974,"month":1,"date":20},{"year":2025,"month":7,"date":28}],"nice":false,"padding":0}},"x2":{"field":"b"},"y":{"field":"p","type":"quantitative","title":null,"scale":{"domain":[-173.2,2310],"nice":false,"zero":false}}}},
{"data":{"name":"marks"},
"mark":{"type":"point","filled":true,"shape":"M -1 -0.35 C -0.5 -0.9 0 -1.2 0.35 -1.1 C 0.8 -1 1.05 -0.5 1 0 C 0.95 0.5 0.6 0.85 0.1 1 C -0.2 1.1 -0.6 1.2 -0.6 0.8 C -0.65 0.4 -0.45 0 -0.15 -0.2 C -0.35 -0.3 -0.7 -0.2 -1 -0.35 Z","size":11500,"color":"#ebf0fb","opacity":0.2,"strokeWidth":0},
"encoding":{"x":{"field":"x","type":"temporal","title":null,"scale":{"domain":[{"year":1974,"month":1,"date":20},{"year":2025,"month":7,"date":28}],"nice":false,"padding":0}},"y":{"field":"y","type":"quantitative","title":null,"scale":{"domain":[-173.2,2310],"nice":false,"zero":false}}}},
{"data":{"name":"ticks"},
"mark":{"type":"text","align":"left","baseline":"middle","fontSize":11.5,"color":"#2a2e39"},
"encoding":{"x":{"datum":{"year":2024,"month":1,"date":25},"type":"temporal","title":null,"scale":{"domain":[{"year":1974,"month":1,"date":20},{"year":2025,"month":7,"date":28}],"nice":false,"padding":0}},"y":{"field":"y","type":"quantitative","title":null,"scale":{"domain":[-173.2,2310],"nice":false,"zero":false}},"text":{"field":"label"}}},
{"data":{"name":"tags"},
"mark":{"type":"rect","color":"#f23645","cornerRadius":2},
"encoding":{"x":{"field":"a","type":"temporal","title":null,"scale":{"domain":[{"year":1974,"month":1,"date":20},{"year":2025,"month":7,"date":28}],"nice":false,"padding":0}},"x2":{"field":"b"},"y":{"field":"top","type":"quantitative","title":null,"scale":{"domain":[-173.2,2310],"nice":false,"zero":false}},"y2":{"field":"bottom"}}},
{"data":{"values":[{"x":"1974-04-22","y":-226}]},
"mark":{"type":"point","filled":true,"shape":"M -1 -0.5 L -0.3 -0.5 L -0.3 0.5 L -0.58 0.5 L -0.58 -0.05 L -1 -0.05 Z M -0.2 -0.38 L 0.06 -0.38 L 0.06 -0.12 L -0.2 -0.12 Z M 0.5 -0.5 L 1 -0.5 L 0.6 0.5 L 0.1 0.5 Z","size":400,"color":"#d1d4dc","opacity":1,"strokeWidth":0},
"encoding":{"x":{"field":"x","type":"temporal","title":null,"scale":{"domain":[{"year":1974,"month":1,"date":20},{"year":2025,"month":7,"date":28}],"nice":false,"padding":0}},"y":{"field":"y","type":"quantitative","title":null,"scale":{"domain":[-173.2,2310],"nice":false,"zero":false}}}},
{"data":{"values":[{"x":"1974-09-15","y":-226,"label":"TradingView"}]},
"mark":{"type":"text","align":"left","baseline":"middle","fontSize":14,"color":"#d1d4dc"},
"encoding":{"x":{"field":"x","type":"temporal","title":null,"scale":{"domain":[{"year":1974,"month":1,"date":20},{"year":2025,"month":7,"date":28}],"nice":false,"padding":0}},"y":{"field":"y","type":"quantitative","title":null,"scale":{"domain":[-173.2,2310],"nice":false,"zero":false}},"text":{"field":"label"}}},
{"data":{"name":"notes"},
"mark":{"type":"text","align":"left","baseline":"middle","fontSize":11.6},
"encoding":{"x":{"field":"x","type":"temporal","title":null,"scale":{"domain":[{"year":1974,"month":1,"date":20},{"year":2025,"month":7,"date":28}],"nice":false,"padding":0}},"y":{"field":"y","type":"quantitative","title":null,"scale":{"domain":[-173.2,2310],"nice":false,"zero":false}},"text":{"field":"label"},
"color":{"field":"kind","type":"nominal","legend":null,"scale":{"domain":["head","dark","blue","white"],"range":["#c9ccd4","#2a2e39","#2962ff","#ffffff"]}}}}
]
}
